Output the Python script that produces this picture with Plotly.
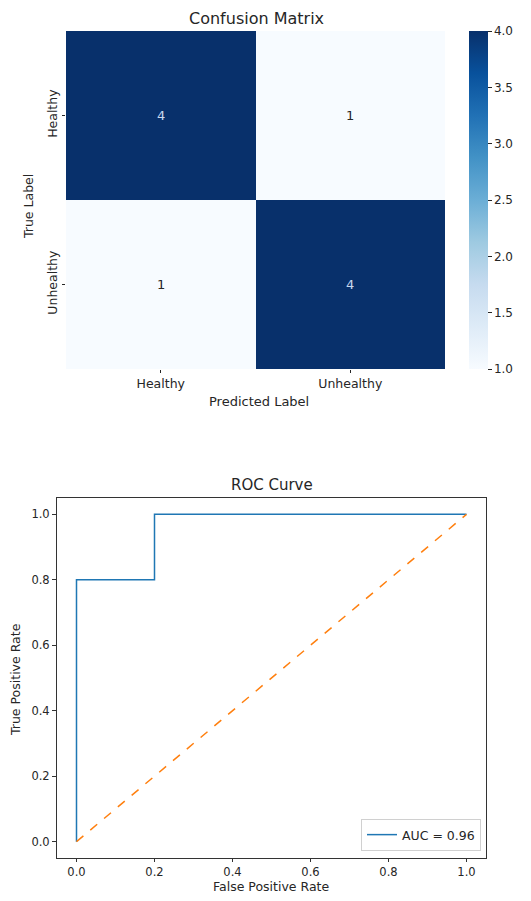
import plotly.graph_objects as go

# page body has an 8px margin, so the figure is sized to fit inside it
OFF = 8
W, H = 531 - 2 * OFF, 901 - 2 * OFF

# ---- data ----
class_labels = ["Healthy", "Unhealthy"]
cm_values = [[4, 1],
             [1, 4]]
fpr = [0.0, 0.0, 0.2, 0.2, 1.0]
tpr = [0.0, 0.8, 0.8, 1.0, 1.0]
diag_x = [0.0, 1.0]
diag_y = [0.0, 1.0]
auc_label = "AUC = 0.96"
colorbar_ticks = [1.0, 1.5, 2.0, 2.5, 3.0, 3.5, 4.0]
roc_ticks = [0.0, 0.2, 0.4, 0.6, 0.8, 1.0]

blues = [[0.0, "#f7fbff"], [0.125, "#deebf7"], [0.25, "#c6dbef"], [0.375, "#9ecae1"],
         [0.5, "#6baed6"], [0.625, "#4292c6"], [0.75, "#2171b5"], [0.875, "#08519c"],
         [1.0, "#08306b"]]

FONT = "DejaVu Sans"
TXT = "#262626"


def px_x(p):
    return (p - OFF) / W


def px_y(p):
    return 1 - (p - OFF) / H


fig = go.Figure()

fig.add_trace(go.Heatmap(
    z=cm_values, x=class_labels, y=class_labels,
    colorscale=blues, zmin=1, zmax=4, xgap=0, ygap=0,
    xaxis="x", yaxis="y", hoverinfo="skip",
    colorbar=dict(
        x=px_x(469), xanchor="left", xpad=0, ypad=0,
        thickness=19, thicknessmode="pixels",
        y=px_y(369), yanchor="bottom", len=(369 - 31) / H, lenmode="fraction",
        outlinewidth=0, tickvals=colorbar_ticks, tickformat=".1f",
        ticks="outside", ticklen=4, tickcolor=TXT,
        tickfont=dict(family=FONT, size=12, color=TXT),
    ),
))

# cell annotations
for i, row_lab in enumerate(class_labels):
    for j, col_lab in enumerate(class_labels):
        v = cm_values[i][j]
        fig.add_annotation(x=col_lab, y=row_lab, xref="x", yref="y", text=str(v),
                           showarrow=False,
                           font=dict(family=FONT, size=13,
                                     color="#c9d8ee" if v > 2.5 else TXT))

fig.add_trace(go.Scatter(x=fpr, y=tpr, mode="lines", name=auc_label,
                         line=dict(color="#1f77b4", width=1.5),
                         xaxis="x2", yaxis="y2", hoverinfo="skip"))
fig.add_trace(go.Scatter(x=diag_x, y=diag_y, mode="lines", showlegend=False,
                         line=dict(color="#ff7f0e", width=1.5, dash="dash"),
                         xaxis="x2", yaxis="y2", hoverinfo="skip"))

cm_tickfont = dict(family=FONT, size=12.5, color=TXT)
roc_tickfont = dict(family=FONT, size=11.5, color=TXT)

fig.update_layout(
    width=W, height=H, margin=dict(l=0, r=0, t=0, b=0, pad=0, autoexpand=False),
    paper_bgcolor="white", plot_bgcolor="white",
    font=dict(family=FONT, color=TXT),
    showlegend=True,
    legend=dict(x=px_x(481), xanchor="right", y=px_y(851), yanchor="bottom",
                bordercolor="#d0d0d0", borderwidth=1, bgcolor="rgba(255,255,255,0.8)",
                font=dict(family=FONT, size=12.5, color=TXT)),
    xaxis=dict(domain=[px_x(66), px_x(445)], type="category", showgrid=False,
               zeroline=False, ticks="outside", ticklen=3, tickcolor=TXT,
               tickfont=cm_tickfont, showline=False),
    yaxis=dict(domain=[px_y(369), px_y(31)], type="category", autorange="reversed",
               showgrid=False, zeroline=False, ticks="outside", ticklen=3, tickcolor=TXT,
               tickfont=cm_tickfont, tickangle=-90, showline=False),
    xaxis2=dict(domain=[px_x(57), px_x(486)], range=[-0.05, 1.05], anchor="y2",
                tickvals=roc_ticks, tickformat=".1f",
                showgrid=False, zeroline=False, showline=True, mirror=True,
                linecolor="#333333", linewidth=1, ticks="outside", ticklen=3,
                tickcolor="#333333", tickfont=roc_tickfont),
    yaxis2=dict(domain=[px_y(858), px_y(498)], range=[-0.05, 1.05], anchor="x2",
                tickvals=roc_ticks, tickformat=".1f",
                showgrid=False, zeroline=False, showline=True, mirror=True,
                linecolor="#333333", linewidth=1, ticks="outside", ticklen=4,
                tickcolor="#333333", tickfont=roc_tickfont),
)


def label(text, x, y, size=11.5, angle=0):
    fig.add_annotation(text=text, x=px_x(x), y=px_y(y), xref="paper", yref="paper",
                       xanchor="center", yanchor="middle",
                       showarrow=False, textangle=angle,
                       font=dict(family=FONT, size=size, color=TXT))


label("Confusion Matrix", 256, 19, size=16)
label("Predicted Label", 259, 402, size=13)
label("True Label", 29, 207, size=12.5, angle=-90)
label("ROC Curve", 272, 485, size=15)
label("False Positive Rate", 271, 886, size=12.5)
label("True Positive Rate", 15, 680, size=12.5, angle=-90)

fig.write_html("out.html")
